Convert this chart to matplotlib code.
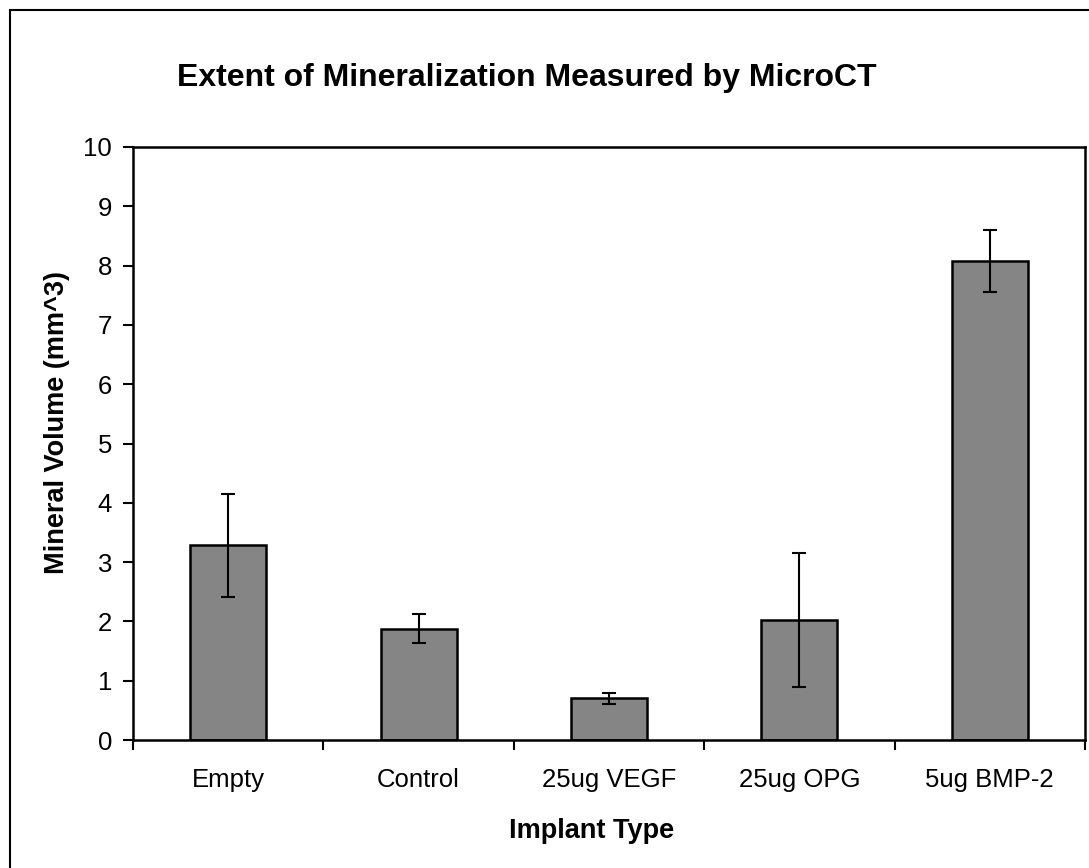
import matplotlib.pyplot as plt
import numpy as np
from matplotlib.patches import Rectangle

plt.rcParams['font.family'] = ['Liberation Sans', 'DejaVu Sans']

# data
implants = ["Empty", "Control", "25ug VEGF", "25ug OPG", "5ug BMP-2"]
mineral_volume = [3.28, 1.88, 0.70, 2.02, 8.08]
volume_err = [0.87, 0.25, 0.10, 1.13, 0.52]
y_ticks = list(range(0, 11))

W, H = 1089, 868
fig = plt.figure(figsize=(W / 100, H / 100), dpi=100)
ax = fig.add_axes([133 / W, 1 - 740 / H, (1085 - 133) / W, (740 - 147) / H])

x = np.arange(len(implants))
ax.bar(x, mineral_volume, width=0.4, color="#858585", edgecolor="black", linewidth=1.8,
       yerr=volume_err, error_kw=dict(ecolor="black", elinewidth=1.5, capsize=5, capthick=1.5),
       zorder=2)

ax.set_xlim(-0.5, len(implants) - 0.5)
ax.set_ylim(0, 10)
ax.set_yticks(y_ticks)
ax.set_yticklabels([str(t) for t in y_ticks], fontsize=18.5)
ax.set_xticks(x)
ax.set_xticklabels(implants, fontsize=18.5)
ax.tick_params(axis="x", length=0, pad=20)
ax.set_xticks(np.arange(len(implants) + 1) - 0.5, minor=True)
ax.tick_params(axis="x", which="minor", length=7, width=1.5, direction="out")
ax.tick_params(axis="y", length=7, width=1.5, direction="out", pad=8)
for s in ax.spines.values():
    s.set_linewidth(1.8)

fig.text(57 / W, 1 - 423 / H, "Mineral Volume (mm^3)", rotation=90,
         ha="center", va="center", fontsize=19.5, fontweight="bold")
fig.text(592 / W, 1 - 831 / H, "Implant Type",
         ha="center", va="center", fontsize=19.5, fontweight="bold")
fig.text(527 / W, 1 - 78 / H, "Extent of Mineralization Measured by MicroCT",
         ha="center", va="center", fontsize=23, fontweight="bold")

# outer chart frame
fig.patches.append(Rectangle((10 / W, -0.01), 1.02, 1 - 10 / H + 0.01, transform=fig.transFigure,
                             fill=False, edgecolor="black", linewidth=1.5))

fig.savefig("out.png", dpi=100)
